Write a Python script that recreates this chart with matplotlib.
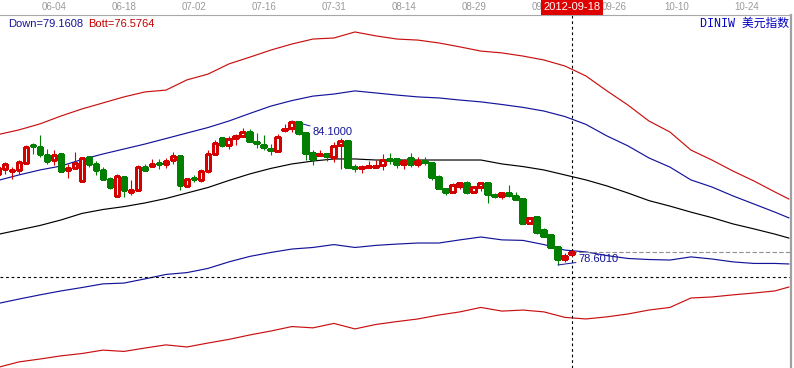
import numpy as np
import matplotlib.pyplot as plt
from matplotlib.patches import Rectangle

# 美元指数 DINIW 日K线 (2012-05 ~ 2012-09-18), 价格从图上读出
opens = [82.08, 82.27, 82.19, 82.23, 82.50, 83.18, 83.11, 82.80, 82.61, 82.84,
         82.23, 82.31, 81.81, 82.72, 82.46, 82.23, 81.89, 81.24, 81.96, 81.39,
         81.47, 82.34, 82.38, 82.50, 82.46, 82.61, 82.76, 81.62, 81.92, 81.85,
         82.19, 82.84, 83.45, 83.18, 83.45, 83.53, 83.68, 83.30, 83.18, 83.03,
         82.95, 83.76, 83.83, 84.06, 83.64, 82.88, 82.80, 82.84, 82.72, 83.18,
         83.34, 82.34, 82.31, 82.34, 82.34, 82.42, 82.65, 82.65, 82.46, 82.69,
         82.46, 82.57, 82.50, 81.96, 81.50, 81.39, 81.62, 81.73, 81.39, 81.58,
         81.73, 81.27, 81.24, 81.35, 81.24, 81.12, 80.21, 80.43, 79.94, 79.75,
         79.29, 78.83, 79.02]
highs = [82.38, 82.53, 82.34, 82.61, 83.18, 83.26, 83.56, 83.03, 82.99, 82.84,
         82.46, 82.92, 82.72, 82.72, 82.57, 82.34, 81.96, 82.08, 81.96, 81.85,
         82.42, 82.46, 82.65, 82.65, 82.69, 82.92, 82.80, 81.92, 82.04, 82.27,
         82.99, 83.37, 83.45, 83.53, 83.60, 83.83, 83.79, 83.64, 83.56, 83.22,
         83.60, 83.98, 84.10, 84.06, 83.64, 82.99, 82.99, 82.84, 83.30, 83.45,
         83.37, 82.46, 82.42, 82.57, 82.61, 82.84, 82.88, 82.69, 82.65, 82.88,
         82.72, 82.72, 82.50, 82.04, 81.50, 81.73, 81.73, 81.81, 81.62, 81.77,
         81.73, 81.35, 81.39, 81.66, 81.39, 81.12, 80.40, 80.47, 80.01, 79.79,
         79.29, 79.06, 79.17]
lows = [82.00, 82.08, 81.89, 82.08, 82.46, 82.84, 82.72, 82.46, 82.42, 82.15,
        81.92, 82.27, 81.77, 82.34, 82.04, 81.85, 81.50, 81.20, 81.20, 81.27,
        81.47, 82.19, 82.34, 82.27, 82.31, 82.46, 81.47, 81.58, 81.77, 81.77,
        82.11, 82.84, 83.11, 83.03, 83.18, 83.53, 83.30, 83.07, 82.99, 82.80,
        82.92, 83.68, 83.68, 83.56, 82.61, 82.42, 82.76, 82.57, 82.53, 82.27,
        82.31, 82.15, 82.11, 82.34, 82.34, 82.23, 82.46, 82.31, 82.27, 82.34,
        82.34, 82.42, 81.85, 81.50, 81.27, 81.35, 81.50, 81.31, 81.35, 81.43,
        80.97, 81.16, 81.12, 81.20, 81.08, 80.17, 80.21, 79.79, 79.67, 79.25,
        78.601, 78.71, 78.94]
closes = [82.31, 82.46, 82.23, 82.53, 83.11, 83.14, 82.84, 82.57, 82.80, 82.19,
          82.31, 82.50, 82.69, 82.46, 82.23, 81.89, 81.58, 82.00, 81.47, 81.47,
          82.34, 82.23, 82.46, 82.46, 82.57, 82.76, 81.66, 81.89, 81.89, 82.19,
          82.84, 83.26, 83.18, 83.41, 83.53, 83.68, 83.34, 83.26, 83.11, 82.99,
          83.49, 83.79, 84.06, 83.64, 82.88, 82.65, 82.84, 82.76, 83.14, 83.34,
          82.34, 82.31, 82.34, 82.38, 82.38, 82.61, 82.61, 82.46, 82.57, 82.46,
          82.57, 82.53, 81.96, 81.54, 81.39, 81.66, 81.73, 81.39, 81.58, 81.73,
          81.31, 81.24, 81.35, 81.27, 81.12, 80.21, 80.40, 79.86, 79.71, 79.29,
          78.83, 78.94, 79.10]

# 通道线, 每 3 根K线读一个点, 向右延伸到 10 月底
band_idx = list(range(0, 112, 3)) + [113]
upper2 = [83.58, 83.76, 83.99, 84.29, 84.56, 84.79, 85.02, 85.21, 85.28, 85.67,
          85.89, 86.28, 86.54, 86.81, 87.04, 87.23, 87.27, 87.50, 87.35, 87.23,
          87.19, 87.08, 86.93, 86.77, 86.70, 86.58, 86.43, 86.20, 85.82, 85.25,
          84.71, 84.10, 83.68, 82.99, 82.61, 82.19, 81.81, 81.39, 81.12]
upper1 = [81.83, 82.04, 82.23, 82.38, 82.63, 82.84, 83.03, 83.22, 83.43, 83.64,
          83.85, 84.10, 84.39, 84.67, 84.88, 85.05, 85.13, 85.25, 85.17, 85.09,
          85.02, 84.98, 84.90, 84.83, 84.73, 84.62, 84.48, 84.27, 83.97, 83.53,
          83.15, 82.69, 82.34, 81.85, 81.58, 81.24, 80.93, 80.62, 80.40]
middle = [79.77, 79.94, 80.11, 80.32, 80.57, 80.72, 80.83, 80.97, 81.14, 81.35,
          81.56, 81.83, 82.08, 82.29, 82.46, 82.57, 82.65, 82.65, 82.61, 82.61,
          82.61, 82.61, 82.61, 82.61, 82.46, 82.36, 82.23, 82.04, 81.85, 81.62,
          81.35, 81.06, 80.85, 80.62, 80.41, 80.17, 79.98, 79.78, 79.63]
lower1 = [77.13, 77.30, 77.46, 77.61, 77.74, 77.88, 77.91, 78.07, 78.24, 78.31,
          78.47, 78.72, 78.93, 79.08, 79.21, 79.27, 79.38, 79.27, 79.35, 79.40,
          79.44, 79.44, 79.56, 79.67, 79.56, 79.54, 79.38, 79.17, 79.10, 78.96,
          78.85, 78.81, 78.79, 78.91, 78.83, 78.72, 78.66, 78.66, 78.64]
lower2 = [74.69, 74.90, 75.01, 75.13, 75.22, 75.35, 75.30, 75.43, 75.55, 75.47,
          75.62, 75.76, 75.93, 76.08, 76.25, 76.20, 76.37, 76.16, 76.33, 76.44,
          76.54, 76.69, 76.81, 76.98, 76.84, 76.88, 76.81, 76.60, 76.54, 76.62,
          76.73, 76.88, 76.98, 77.34, 77.38, 77.46, 77.53, 77.61, 77.76]

tick_idx = [8, 18, 28, 38, 48, 58, 68, 78, 88, 97, 107]
tick_labels = ['06-04', '06-18', '07-02', '07-16', '07-31', '08-14',
               '08-29', '09-12', '09-26', '10-10', '10-24']
cursor_date = '2012-09-18'
cursor_price = 78.14
down_value = 79.1608
bott_value = 76.5764

RED = '#d40000'
LINE_RED = '#c81010'
GREEN = '#007f00'
NAVY = '#14149a'

fig = plt.figure(figsize=(7.94, 3.68), dpi=100)
ax = fig.add_axes([0, 0, 791 / 794, 1 - 15 / 368])

# K线: 阳线空心红, 阴线实心绿
w = 0.7
for i, (o, h, l, c) in enumerate(zip(opens, highs, lows, closes)):
    if c >= o:
        ax.vlines(i, c, h, color=RED, lw=0.8, zorder=3)
        ax.vlines(i, l, o, color=RED, lw=0.8, zorder=3)
        ax.add_patch(Rectangle((i - w / 2, o), w, c - o, fc='white', ec=RED,
                               lw=0.75, zorder=4, antialiased=False))
    else:
        ax.vlines(i, l, h, color=GREEN, lw=0.8, zorder=3)
        ax.add_patch(Rectangle((i - w / 2, c), w, o - c, fc=GREEN, ec=GREEN,
                               lw=0.75, zorder=4, antialiased=False))

# 通道
ax.plot(band_idx, upper2, color=LINE_RED, lw=0.85)
ax.plot(band_idx, upper1, color=NAVY, lw=0.85)
ax.plot(band_idx, middle, color='black', lw=0.85)
ax.plot(band_idx, lower1, color=NAVY, lw=0.85)
ax.plot(band_idx, lower2, color=LINE_RED, lw=0.85)

# 十字光标 + 最新价
last = len(closes) - 1
ax.axvline(last, color='black', lw=0.8, ls=(0, (2.5, 2.5)))
ax.axhline(cursor_price, color='black', lw=0.8, ls=(0, (2.5, 2.5)))
ax.hlines(closes[-1], last, 114, color='#909090', lw=0.8, ls=(0, (4, 2)))

# 最高/最低标注
ihi = int(np.argmax(highs))
ilo = int(np.argmin(lows))
ax.annotate(f'{highs[ihi]:.4f}', xy=(ihi, highs[ihi]), xytext=(15, -8),
            textcoords='offset points', va='center', ha='left', color=NAVY,
            fontsize=8, family='Liberation Sans',
            arrowprops=dict(arrowstyle='-', color=NAVY, lw=0.7, shrinkA=0, shrinkB=0))
ax.annotate(f'{lows[ilo]:.4f}', xy=(ilo, lows[ilo]), xytext=(15, 4),
            textcoords='offset points', va='center', ha='left', color=NAVY,
            fontsize=8, family='Liberation Sans',
            arrowprops=dict(arrowstyle='-', color=NAVY, lw=0.7, shrinkA=0, shrinkB=0))

ax.set_xlim(0.29, 113.3)
ax.set_ylim(74.667, 88.148)

# 顶部日期
ax.xaxis.tick_top()
ax.set_xticks(tick_idx)
ax.set_xticklabels(tick_labels, family='Liberation Sans')
ax.tick_params(axis='x', length=0, pad=2.5, labelsize=7, labelcolor='#9a9a9a')
ax.set_yticks([])
ax.annotate(cursor_date, xy=(last, 1), xycoords=('data', 'axes fraction'),
            xytext=(0, 5.4), textcoords='offset points', ha='center', va='center',
            color='white', fontsize=8, family='Liberation Sans',
            annotation_clip=False, zorder=10,
            bbox=dict(boxstyle='square,pad=0.22', fc='#e00000', ec='none'))

for side in ['left', 'bottom']:
    ax.spines[side].set_visible(False)
ax.spines['top'].set_color('#a8a8a8')
ax.spines['right'].set_color('#a0a0a0')
ax.spines['right'].set_linewidth(1.6)

fig.text(8 / 794, 1 - 24 / 368, f'Down={down_value:.4f}', color=NAVY,
         fontsize=8, va='center', family='Liberation Sans')
fig.text(88 / 794, 1 - 24 / 368, f'Bott={bott_value:.4f}', color='#c00000',
         fontsize=8, va='center', family='Liberation Sans')
fig.text(789 / 794, 1 - 24 / 368, 'DINIW 美元指数', color='#0000c0',
         fontsize=8.5, va='center', ha='right',
         family=['Liberation Mono', 'Noto Sans CJK SC'])

fig.savefig('out.png', dpi=100, facecolor='white')
